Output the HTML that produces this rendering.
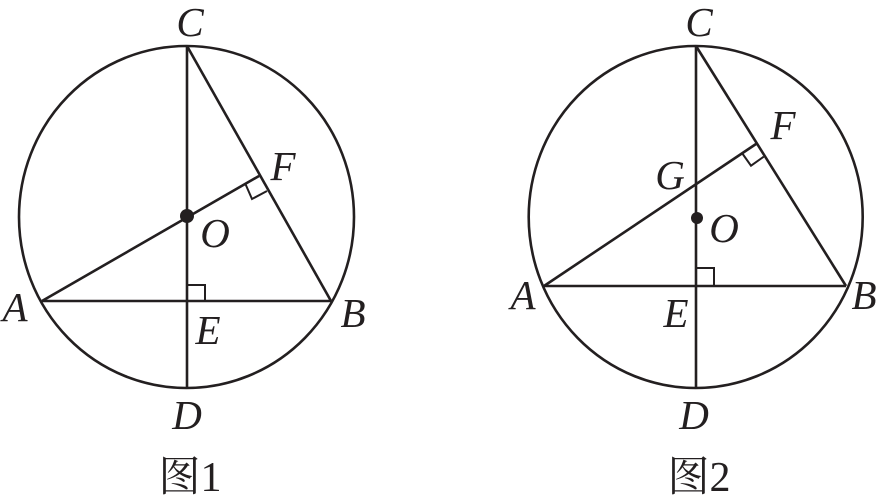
<!DOCTYPE html>
<html><head><meta charset="utf-8"><style>
html,body{margin:0;padding:0;background:#fff;}
svg{display:block;}
text{font-family:"Liberation Serif",serif;font-style:italic;font-size:41px;fill:#231f20;}
.cn{font-family:"Liberation Serif","Noto Serif CJK SC",serif;font-style:normal;font-size:42px;}
</style></head><body>
<svg width="882" height="502" viewBox="0 0 882 502" xmlns="http://www.w3.org/2000/svg">
<g stroke="#231f20" stroke-width="2.6" fill="none">
<ellipse cx="186.5" cy="217" rx="167.5" ry="171"/>
<line x1="187" y1="46" x2="187" y2="388"/>
<line x1="42" y1="301" x2="331" y2="301"/>
<line x1="187" y1="46" x2="331" y2="301"/>
<line x1="42" y1="301" x2="259" y2="176"/>
<polyline points="245,183 252,199 267,191" stroke-width="2"/>
<polyline points="187,285 205,285 205,301" stroke-width="2"/>
<ellipse cx="695.7" cy="217" rx="167" ry="171"/>
<line x1="696" y1="46" x2="696" y2="389"/>
<line x1="544" y1="286" x2="846" y2="286"/>
<line x1="696" y1="46" x2="846" y2="286"/>
<line x1="544" y1="286" x2="756" y2="144"/>
<polyline points="742.7,154 751,165.7 763.7,156.7" stroke-width="2"/>
<polyline points="697,268 714,268 714,286" stroke-width="2"/>
</g>
<circle cx="187" cy="216" r="7" fill="#231f20"/>
<circle cx="697" cy="218" r="6" fill="#231f20"/>
<g text-anchor="middle" dominant-baseline="central">
<text x="190" y="22">C</text>
<text x="283" y="166">F</text>
<text x="215" y="233">O</text>
<text x="15" y="307">A</text>
<text x="353" y="313">B</text>
<text x="208" y="330">E</text>
<text x="187" y="415">D</text>
<text class="cn" x="190" y="478">图1</text>
<text x="699" y="22">C</text>
<text x="783" y="125">F</text>
<text x="670" y="175">G</text>
<text x="724" y="228">O</text>
<text x="523" y="295">A</text>
<text x="864" y="295">B</text>
<text x="676" y="313">E</text>
<text x="694" y="415">D</text>
<text class="cn" x="699" y="478">图2</text>
</g>
</svg>
</body></html>
